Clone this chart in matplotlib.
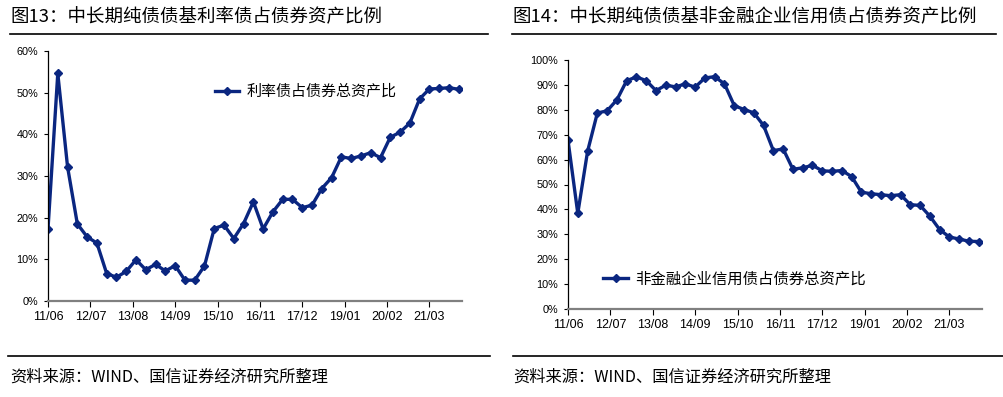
import matplotlib.pyplot as plt
from matplotlib.lines import Line2D
import numpy as np
import pandas as pd

# quarterly observations, 2011-06 .. 2021-12
quarters = pd.period_range('2011-06', '2021-12', freq='3M')

rate_bond_share = [17.3, 54.6, 32.2, 18.5, 15.4, 13.9, 6.6, 5.7, 7.1, 9.9,
                   7.5, 8.8, 7.2, 8.5, 5.0, 5.0, 8.4, 17.4, 18.2, 15.0,
                   18.6, 23.8, 17.3, 21.4, 24.4, 24.4, 22.4, 23.0, 27.0, 29.6,
                   34.6, 34.2, 34.8, 35.6, 34.4, 39.3, 40.5, 42.7, 48.5, 50.9,
                   51.0, 51.2, 50.8]

credit_bond_share = [67.8, 38.4, 63.3, 78.7, 79.6, 84.0, 91.7, 93.2, 91.7, 87.7,
                     89.9, 89.2, 90.4, 89.1, 92.8, 93.3, 90.4, 81.7, 80.1, 78.8,
                     73.7, 63.6, 64.3, 56.1, 56.7, 57.7, 55.5, 55.3, 55.6, 53.2,
                     46.9, 46.3, 45.9, 45.5, 45.9, 41.9, 41.6, 37.3, 31.9, 28.9,
                     28.1, 27.2, 27.1]

tick_labels = ['11/06', '12/07', '13/08', '14/09', '15/10', '16/11',
               '17/12', '19/01', '20/02', '21/03']

titles = ['图13：中长期纯债债基利率债占债券资产比例',
          '图14：中长期纯债债基非金融企业信用债占债券资产比例']
legend_names = ['利率债占债券总资产比', '非金融企业信用债占债券总资产比']
source = '资料来源：WIND、国信证券经济研究所整理'

cjk = ['Noto Sans CJK SC', 'DejaVu Sans']
navy = '#0a2680'

# month offsets from 2011-06
start = quarters[0].to_timestamp()
months = np.array([(q.to_timestamp().year - start.year) * 12 + q.to_timestamp().month - start.month
                   for q in quarters])
tick_pos = np.arange(len(tick_labels)) * 13

fig = plt.figure(figsize=(10.04, 3.97), dpi=100)

W, H = 1004.0, 397.0


def fx(px):
    return px / W


def fy(py):
    return 1 - py / H


# left: x 48..462, y 51..301 ; right: x 568..982, y 60..309
ax1 = fig.add_axes([fx(48), fy(301), fx(462 - 48), (301 - 51) / H])
ax2 = fig.add_axes([fx(568), fy(309), fx(982 - 568), (309 - 60) / H])

panels = [
    (ax1, rate_bond_share, 60, 10, legend_names[0], (0.403, 0.836), 10.8),
    (ax2, credit_bond_share, 100, 10, legend_names[1], (0.085, 0.12), 11.1),
]

for ax, vals, ymax, step, name, lpos, lsize in panels:
    ax.plot(months, vals, color=navy, lw=2.4, marker='D', ms=4.2,
            markerfacecolor=navy, markeredgecolor=navy, label=name)
    ax.set_xlim(0, 127)
    ax.set_ylim(0, ymax)
    ax.set_yticks(np.arange(0, ymax + 1, step))
    ax.set_yticklabels(['%d%%' % v for v in np.arange(0, ymax + 1, step)],
                       fontsize=7.8, family='Liberation Sans')
    ax.set_xticks(tick_pos)
    ax.set_xticklabels(tick_labels, fontsize=9, family='Liberation Sans')
    for s in ['top', 'right']:
        ax.spines[s].set_visible(False)
    ax.spines['left'].set_color('black')
    ax.spines['left'].set_linewidth(0.9)
    ax.spines['bottom'].set_color('#808080')
    ax.spines['bottom'].set_linewidth(1.6)
    ax.tick_params(axis='y', direction='out', length=3, width=0.8, pad=4)
    ax.tick_params(axis='x', direction='out', length=4, width=0.8, pad=3,
                   color='black')
    ax.patch.set_alpha(0)
    ax.legend(loc='center left', bbox_to_anchor=lpos, frameon=False,
              borderpad=0, borderaxespad=0, handlelength=1.6,
              handletextpad=0.5, prop={'family': cjk, 'size': lsize})

# titles and rules
fig.text(fx(10), fy(17), titles[0], family=cjk, fontsize=13.3, va='center', ha='left')
fig.text(fx(512), fy(17), titles[1], family=cjk, fontsize=13.3, va='center', ha='left')
fig.add_artist(Line2D([fx(10), fx(488)], [fy(34), fy(34)], color='black', lw=1.2))
fig.add_artist(Line2D([fx(512), fx(996)], [fy(34), fy(34)], color='black', lw=1.2))

# footers
fig.add_artist(Line2D([fx(8), fx(490)], [fy(356), fy(356)], color='black', lw=1.2))
fig.add_artist(Line2D([fx(513), fx(1004)], [fy(356), fy(356)], color='black', lw=1.2))
fig.text(fx(10), fy(377), source, family=cjk, fontsize=11.7, va='center', ha='left')
fig.text(fx(513), fy(377), source, family=cjk, fontsize=11.7, va='center', ha='left')

fig.savefig('out.png', dpi=100)
